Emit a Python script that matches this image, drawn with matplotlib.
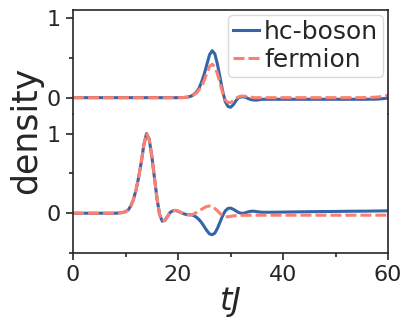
import numpy as np
import matplotlib
matplotlib.use("Agg")
import matplotlib.pyplot as plt
from matplotlib.ticker import MultipleLocator

# time grid (tJ)
t = [0, 2, 4, 6, 8, 8.5, 9, 9.5, 10, 10.5, 11, 11.5, 12, 12.5, 13, 13.5, 14, 14.5,
     15, 15.5, 16, 16.5, 17, 17.5, 18, 18.5, 19, 19.5, 20, 20.5, 21, 21.5, 22, 22.5,
     23, 23.5, 24, 24.5, 25, 25.5, 26, 26.5, 27, 27.5, 28, 28.5, 29, 29.5, 30, 30.5,
     31, 31.5, 32, 32.5, 33, 33.5, 34, 34.5, 35, 35.5, 36, 38, 40, 42, 44, 46, 48,
     50, 52, 54, 56, 58, 59, 60]

# top panel: hard-core bosons / fermions
top_boson = [0, 0, 0, 0, 0, 0, 0, 0, 0, 0, 0, 0, 0, 0, 0, 0, 0, 0,
             0, 0, 0, 0, 0, 0, 0, 0, 0, 0, 0, 0.001, 0.002, 0.005, 0.01, 0.02,
             0.04, 0.07, 0.12, 0.2, 0.3, 0.42, 0.54, 0.59, 0.55, 0.42, 0.25, 0.08, -0.05, -0.11, -0.12, -0.09,
             -0.04, 0.0, 0.01, 0.01, 0.0, -0.015, -0.025, -0.03, -0.03, -0.025, -0.02, -0.02, -0.02, -0.02, -0.02, -0.02, -0.02,
             -0.02, -0.02, -0.02, -0.02, -0.018, -0.012, -0.005]
top_fermion = [0, 0, 0, 0, 0, 0, 0, 0, 0, 0, 0, 0, 0, 0, 0, 0, 0, 0,
               0, 0, 0, 0, 0, 0, 0, 0, 0, 0, 0, 0.001, 0.002, 0.005, 0.01, 0.02,
               0.035, 0.06, 0.1, 0.15, 0.22, 0.31, 0.39, 0.42, 0.39, 0.3, 0.18, 0.06, -0.03, -0.06, -0.06, -0.04,
               -0.01, 0.01, 0.02, 0.02, 0.015, 0.01, 0.005, 0.0, 0.0, 0.0, 0.0, 0.0, 0.0, 0.0, 0.0, 0.0, 0.0,
               0.0, 0.0, 0.0, 0.002, 0.008, 0.016, 0.03]

# bottom panel
bot_boson = [0, 0, 0, 0, 0, 0.002, 0.005, 0.01, 0.02, 0.04, 0.09, 0.17, 0.29, 0.45, 0.64, 0.86, 1.0, 0.93,
             0.72, 0.45, 0.18, -0.02, -0.1, -0.09, -0.04, 0.01, 0.03, 0.035, 0.025, 0.01, -0.005, -0.015, -0.02, -0.02,
             -0.03, -0.05, -0.08, -0.12, -0.17, -0.22, -0.26, -0.27, -0.25, -0.19, -0.11, -0.03, 0.03, 0.06, 0.065, 0.05,
             0.03, 0.01, 0.0, 0.0, 0.01, 0.02, 0.025, 0.025, 0.02, 0.015, 0.012, 0.012, 0.014, 0.016, 0.018, 0.02, 0.021,
             0.022, 0.024, 0.025, 0.026, 0.028, 0.029, 0.03]
bot_fermion = [0, 0, 0, 0, 0, 0.002, 0.005, 0.01, 0.02, 0.04, 0.09, 0.17, 0.29, 0.45, 0.64, 0.86, 1.0, 0.93,
               0.72, 0.45, 0.18, -0.02, -0.1, -0.09, -0.04, 0.01, 0.03, 0.035, 0.025, 0.01, -0.005, -0.015, -0.02, -0.02,
               -0.01, 0.01, 0.03, 0.05, 0.07, 0.085, 0.09, 0.085, 0.06, 0.03, -0.005, -0.03, -0.045, -0.045, -0.04, -0.035,
               -0.03, -0.028, -0.027, -0.026, -0.026, -0.025, -0.025, -0.025, -0.025, -0.025, -0.025, -0.025, -0.025, -0.025, -0.025, -0.025, -0.025,
               -0.025, -0.025, -0.025, -0.025, -0.025, -0.025, -0.025]

labels = ["hc-boson", "fermion"]
xticks = [0, 20, 40, 60]

BLUE = "#3465a8"
SALMON = "#fa8072"
DARK = "#262626"

plt.rcParams['font.family'] = ['DejaVu Sans']

fig = plt.figure(figsize=(4.01, 3.24), dpi=100)
gs = fig.add_gridspec(2, 1, height_ratios=[1.3, 1.75], hspace=0,
                      left=0.182, right=0.968, top=0.969, bottom=0.219)
ax1 = fig.add_subplot(gs[0])
ax2 = fig.add_subplot(gs[1], sharex=ax1)

for ax, yb, yf in [(ax1, top_boson, top_fermion), (ax2, bot_boson, bot_fermion)]:
    ax.plot(t, yb, color=BLUE, lw=2.2, label=labels[0])
    ax.plot(t, yf, color=SALMON, lw=2.2, ls=(0, (3.6, 1.3)), label=labels[1])
    ax.yaxis.set_major_locator(MultipleLocator(1))
    ax.yaxis.set_minor_locator(MultipleLocator(0.5))
    ax.tick_params(which='major', direction='out', length=5, width=1.2, labelsize=16,
                   color=DARK, labelcolor=DARK)
    ax.tick_params(which='minor', direction='out', length=3, width=1.2, color=DARK)
    for s in ax.spines.values():
        s.set_linewidth(1.2)
        s.set_color(DARK)

ax1.set_ylim(-0.2, 1.1)
ax2.set_ylim(-0.5, 1.25)
ax1.spines['bottom'].set_visible(False)
ax2.spines['top'].set_visible(False)
ax1.tick_params(axis='x', which='both', bottom=False, labelbottom=False)

ax2.set_xlim(0, 60)
ax2.set_xticks(xticks)
ax2.xaxis.set_minor_locator(MultipleLocator(10))

ax2.set_xlabel('tJ', fontsize=23, style='italic', color=DARK, labelpad=1)
fig.text(0.066, 0.597, 'density', rotation=90, fontsize=25, color=DARK,
         ha='center', va='center')

leg = ax1.legend(loc='upper right', fontsize=18, handlelength=1.05, handletextpad=0.2,
                 borderpad=0.2, labelspacing=0.15, borderaxespad=0.2, frameon=True)
leg.get_frame().set_edgecolor('#d0d0d0')
for txt in leg.get_texts():
    txt.set_color(DARK)

fig.savefig('out.png', dpi=100)
